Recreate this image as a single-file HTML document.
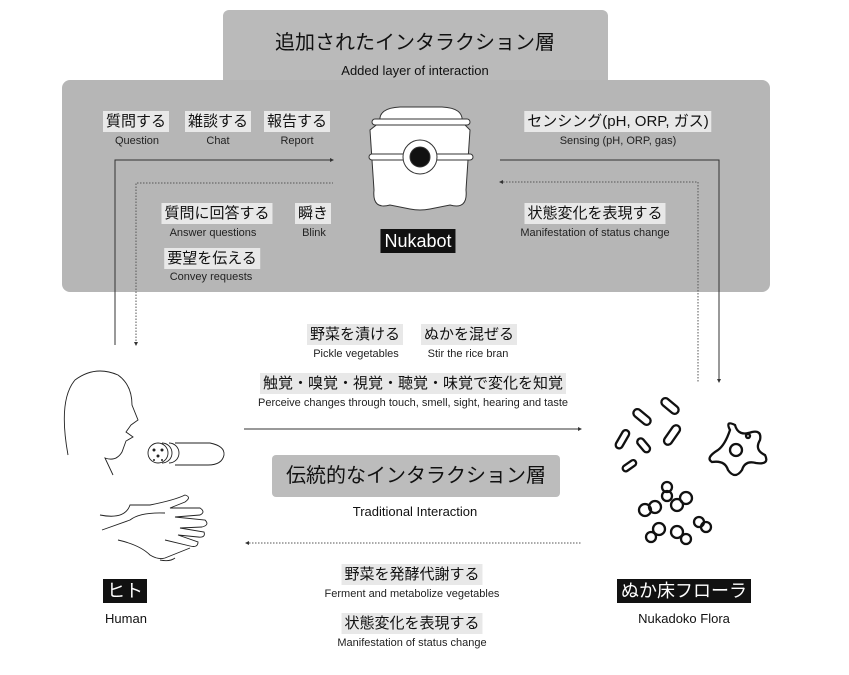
<!DOCTYPE html>
<html><head><meta charset="utf-8"><style>
body{margin:0;width:849px;height:675px;background:#fff;position:relative;overflow:hidden;font-family:"Liberation Sans","Noto Sans CJK JP",sans-serif;color:#111}
.a{position:absolute;white-space:nowrap;transform:translateX(-50%);line-height:1}
.j{background:#e8e8e8;font-size:15px;padding:3px 3px;line-height:15px}
.e{font-size:11px;color:#222}
.b{background:#111;color:#fff;font-size:18px;padding:3px 4px;line-height:18px}
</style></head><body>
<div style="position:absolute;left:223px;top:10px;width:385px;height:80px;background:#bababa;border-radius:6px"></div>
<div style="position:absolute;left:62px;top:80px;width:708px;height:212px;background:#b6b6b6;border-radius:8px"></div>
<svg width="849" height="675" style="position:absolute;left:0;top:0">
<g fill="none" stroke="#333" stroke-width="1">
<polyline points="115,345 115,160 333,160"/>
<polyline points="136,344 136,183 333,183" stroke-dasharray="1.5,1.5" stroke="#555"/>
<polyline points="500,160 719,160 719,380"/>
<polyline points="500,182 698,182 698,382" stroke-dasharray="1.5,1.5" stroke="#555"/>
<line x1="244" y1="429" x2="580" y2="429"/>
<line x1="246" y1="543" x2="582" y2="543" stroke-dasharray="1.5,1.5" stroke="#555"/>
</g>
<g fill="#333"><path d="M334,160 l-4,-2 v4z"/><path d="M136,346 l-2,-4 h4z"/><path d="M719,383 l-2,-4 h4z"/><path d="M499,182 l4,-2 v4z"/><path d="M582,429 l-4,-2 v4z"/><path d="M245,543 l4,-2 v4z"/></g>
<!-- nukabot -->
<g stroke="#333" stroke-width="1" fill="#fff">
<path d="M380,122 Q378,108 400,107 L442,107 Q464,108 462,122 L470,130 L466,190 Q468,210 450,205 L430,209 Q420,211 410,209 L390,205 Q372,210 374,190 L370,130Z"/>
<rect x="372" y="119" width="98" height="6" rx="3"/>
<rect x="369" y="154" width="104" height="6" rx="3"/>
<circle cx="420" cy="157" r="17"/>
<circle cx="420" cy="157" r="10" fill="#111"/>
</g>
<!-- human -->
<g fill="none" stroke="#222" stroke-width="0.9">
<path d="M68,455 Q58,400 75,380 Q95,365 118,375 Q132,385 132,405 L138,420 L131,425 L126,432 L133,437 L126,441 L122,452 Q116,462 105,458 L113,475"/>
<circle cx="158" cy="453" r="10"/><path d="M162,443 a10,10 0 0 1 0,20 M169,443 a10,10 0 0 1 0,20 M175,443 L210,443 Q225,446 224,455 Q222,465 208,465 L175,465"/>
<path d="M100,515 Q125,520 130,505 L150,505 Q175,500 185,495 Q192,497 185,502 L170,508 L200,508 Q206,512 200,515 L175,517 L205,520 Q210,525 202,527 L180,528 L204,532 Q206,538 198,537 L178,535 L198,542 Q198,548 190,546 L165,540"/>
<path d="M102,530 L130,520 Q140,512 165,513 M118,540 Q140,545 150,555 Q158,560 165,558 L190,548 M160,560 Q170,562 175,558"/>
</g>
<g fill="#222"><circle cx="154" cy="450" r="1.5"/><circle cx="162" cy="450" r="1.5"/><circle cx="158" cy="456" r="1.5"/><circle cx="154" cy="460" r="1"/><circle cx="162" cy="460" r="1"/></g>
<!-- flora -->
<g fill="none" stroke="#111" stroke-width="2.3">
<rect x="632" y="413" width="20" height="8" rx="4" transform="rotate(40 642 417)"/>
<rect x="660" y="402" width="20" height="8" rx="4" transform="rotate(40 670 406)"/>
<rect x="612" y="436" width="20" height="7" rx="3.5" transform="rotate(-60 622 439)"/>
<rect x="636" y="442" width="16" height="7" rx="3.5" transform="rotate(50 644 445)"/>
<rect x="661" y="431" width="22" height="8" rx="4" transform="rotate(-55 672 435)"/>
<rect x="622" y="463" width="15" height="6" rx="3" transform="rotate(-35 629 466)"/>
<path d="M730,430 Q725,420 735,425 Q738,437 752,432 Q762,430 760,440 Q754,450 765,455 Q770,465 756,463 Q745,460 742,470 Q735,480 728,470 Q725,460 712,462 Q705,458 718,450 Q725,445 730,430Z"/>
<circle cx="736" cy="450" r="6"/><circle cx="748" cy="436" r="2"/>
<circle cx="667" cy="487" r="5"/><circle cx="667" cy="496" r="5"/>
<circle cx="645" cy="510" r="6"/><circle cx="655" cy="507" r="6"/>
<circle cx="677" cy="505" r="6"/><circle cx="686" cy="498" r="6"/>
<circle cx="699" cy="522" r="5"/><circle cx="706" cy="527" r="5"/>
<circle cx="651" cy="537" r="5"/><circle cx="659" cy="529" r="6"/>
<circle cx="677" cy="532" r="6"/><circle cx="686" cy="539" r="5"/>
</g>
</svg>
<div class="a" style="left:415px;top:33px;font-size:20px">追加されたインタラクション層</div>
<div class="a" style="left:415px;top:64px;font-size:13px">Added layer of interaction</div>

<div class="a j" style="left:136px;top:111px">質問する</div><div class="a e" style="left:137px;top:136px">Question</div>
<div class="a j" style="left:218px;top:111px">雑談する</div><div class="a e" style="left:218px;top:136px">Chat</div>
<div class="a j" style="left:297px;top:111px">報告する</div><div class="a e" style="left:297px;top:136px">Report</div>
<div class="a j" style="left:217px;top:203px">質問に回答する</div><div class="a e" style="left:213px;top:228px">Answer questions</div>
<div class="a j" style="left:313px;top:203px">瞬き</div><div class="a e" style="left:314px;top:228px">Blink</div>
<div class="a j" style="left:212px;top:248px">要望を伝える</div><div class="a e" style="left:211px;top:272px">Convey requests</div>
<div class="a b" style="left:418px;top:229px">Nukabot</div>
<div class="a j" style="left:618px;top:111px">センシング(pH, ORP, ガス)</div><div class="a e" style="left:618px;top:136px">Sensing (pH, ORP, gas)</div>
<div class="a j" style="left:595px;top:203px">状態変化を表現する</div><div class="a e" style="left:595px;top:228px">Manifestation of status change</div>

<div class="a j" style="left:355px;top:324px">野菜を漬ける</div><div class="a e" style="left:356px;top:349px">Pickle vegetables</div>
<div class="a j" style="left:469px;top:324px">ぬかを混ぜる</div><div class="a e" style="left:468px;top:349px">Stir the rice bran</div>
<div class="a j" style="left:413px;top:373px">触覚・嗅覚・視覚・聴覚・味覚で変化を知覚</div><div class="a e" style="left:413px;top:398px">Perceive changes through touch, smell, sight, hearing and taste</div>
<div style="position:absolute;left:272px;top:455px;width:288px;height:42px;background:#bcbcbc;border-radius:4px;font-size:20px;line-height:42px;text-align:center">伝統的なインタラクション層</div>
<div class="a" style="left:415px;top:505px;font-size:13px">Traditional Interaction</div>
<div class="a j" style="left:412px;top:564px">野菜を発酵代謝する</div><div class="a e" style="left:412px;top:589px">Ferment and metabolize vegetables</div>
<div class="a j" style="left:412px;top:613px">状態変化を表現する</div><div class="a e" style="left:412px;top:638px">Manifestation of status change</div>

<div class="a b" style="left:125px;top:579px">ヒト</div><div class="a" style="left:126px;top:612px;font-size:13px">Human</div>
<div class="a b" style="left:684px;top:579px">ぬか床フローラ</div><div class="a" style="left:684px;top:612px;font-size:13px">Nukadoko Flora</div>
</body></html>
